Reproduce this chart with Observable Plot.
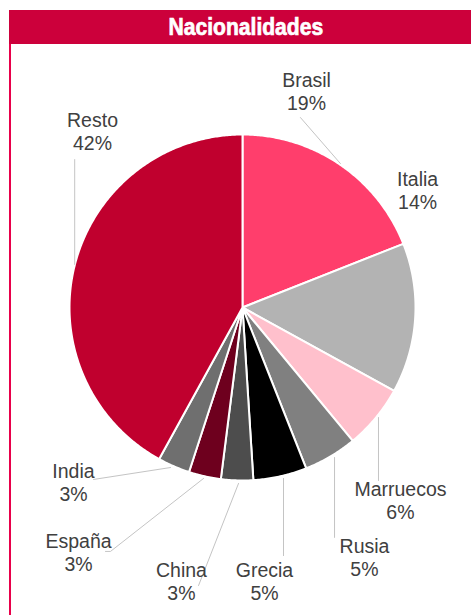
<!DOCTYPE html>
<html><head><meta charset="utf-8">
<script src="https://cdn.jsdelivr.net/npm/d3@7"></script>
<script src="https://cdn.jsdelivr.net/npm/@observablehq/plot@0.6"></script>
<style>
body{margin:0;background:#fff;width:471px;height:615px;overflow:hidden;position:relative;font-family:"Liberation Sans",Arial,sans-serif}
#hdr{position:absolute;left:9px;top:10px;width:462px;height:34px;background:#cc003b;color:#fff;text-align:center}
#hdr span{display:inline-block;font-weight:bold;font-size:24.5px;line-height:34px;transform:scaleX(0.86);-webkit-text-stroke:0.7px #fff;margin-left:12px}
#border{position:absolute;left:9px;top:44px;width:2px;height:571px;background:#e8004a}
#chart{position:absolute;left:0;top:0}
</style></head><body>
<div id="chart"></div><div id="hdr"><span>Nacionalidades</span></div><div id="border"></div>
<script>
// Data
const categories = ["Brasil","Italia","Marruecos","Rusia","Grecia","China","España","India","Resto"];
const values = [19,14,6,5,5,3,3,3,42];
const sliceColors = ["#ff3e6c","#b3b3b3","#ffc0cc","#808080","#000000","#4d4d4d","#6e001e","#6f6f6f","#c0002e"];

// Layout (radius units, y up, origin at pie centre)
const W = 471, H = 615, R = 173, CX = 242, CY = 307;
const labelPos = [[0.370,1.249],[1.012,0.676],[0.913,-1.116],[0.705,-1.445],[0.127,-1.584],[-0.353,-1.584],[-0.948,-1.416],[-0.977,-1.012],[-0.867,1.017]];
const leaderPts = {
  Brasil: [[0.566,0.832],[0.335,1.098]],
  Marruecos: [[0.786,-0.636],[0.786,-1.000]],
  Rusia: [[0.532,-0.867],[0.532,-1.329]],
  Grecia: [[0.237,-0.988],[0.237,-1.434]],
  China: [[-0.023,-1.017],[-0.254,-1.607]],
  "España": [[-0.225,-0.988],[-0.763,-1.410],[-0.792,-1.410]],
  India: [[-0.416,-0.925],[-0.861,-0.994]],
  Resto: [[-0.970,0.249],[-0.970,0.855]]
};

const pie = d3.pie().sort(null).startAngle(0).endAngle(2*Math.PI)(values);
const slicePts = [];
pie.forEach((p, i) => {
  const name = categories[i];
  slicePts.push({name, x: 0, y: 0});
  const n = Math.max(2, Math.ceil((p.endAngle - p.startAngle) / (Math.PI/360)));
  for (let k = 0; k <= n; k++) {
    const a = p.startAngle + (p.endAngle - p.startAngle) * k / n;
    slicePts.push({name, x: Math.sin(a), y: Math.cos(a)});
  }
  slicePts.push({name, x: 0, y: 0});
});

const labels = categories.map((c, i) => ({x: labelPos[i][0], y: labelPos[i][1], text: `${c}\n${values[i]}%`}));
const leaders = [];
for (const [k, pts] of Object.entries(leaderPts)) pts.forEach(([x, y]) => leaders.push({k, x, y}));

const chart = Plot.plot({
  width: W, height: H,
  margin: 0,
  x: {domain: [-CX/R, (W-CX)/R], axis: null},
  y: {domain: [-(H-CY)/R, CY/R], axis: null},
  color: {domain: categories, range: sliceColors},
  style: {background: "transparent"},
  marks: [
    Plot.line(slicePts, {x: "x", y: "y", z: "name", fill: "name", stroke: "white", strokeWidth: 2, strokeLinejoin: "round"}),
    Plot.line(leaders, {x: "x", y: "y", z: "k", stroke: "#c4c4c4", strokeWidth: 1}),
    Plot.text(labels, {x: "x", y: "y", text: "text", fontSize: 19.5, lineHeight: 1.18, fill: "#404040", fontFamily: "Liberation Sans, Arial, sans-serif"})
  ]
});
document.getElementById("chart").appendChild(chart);
</script>
</body></html>
